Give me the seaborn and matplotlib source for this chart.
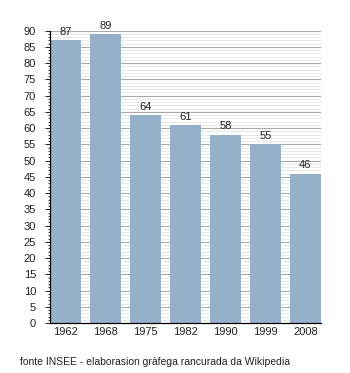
import matplotlib
matplotlib.use("Agg")
import matplotlib.pyplot as plt
import seaborn as sns
import pandas as pd
from matplotlib.ticker import MultipleLocator

years = ["1962", "1968", "1975", "1982", "1990", "1999", "2008"]
values = [87, 89, 64, 61, 58, 55, 46]
caption = "fonte INSEE - elaborasion gràfega rancurada da Wikipedia"

sns.set_theme(style="white")
plt.rcParams['font.family'] = ['Liberation Sans', 'DejaVu Sans']

df = pd.DataFrame({"year": years, "value": values})

fig = plt.figure(figsize=(3.5, 3.73), dpi=100)
ax = fig.add_axes([0.1429, 0.134, 0.774, 0.784])

ax.set_ylim(0, 90)
ax.yaxis.set_major_locator(MultipleLocator(5))
ax.yaxis.set_minor_locator(MultipleLocator(1))
ax.grid(which="minor", axis="y", color="#e2e2e2", linewidth=0.6)
ax.grid(which="major", axis="y", color="#aaaaaa", linewidth=0.8)
ax.set_axisbelow(True)

bw = 0.775
sns.barplot(data=df, x="year", y="value", color="#97b0ca", saturation=1,
            width=bw, ax=ax, zorder=3)
for p in ax.patches:
    p.set_zorder(3)
    p.set_edgecolor("none")

for i, v in enumerate(values):
    ax.text(i, v + 1.0, str(v), ha="center", va="bottom", fontsize=8, color="#222222")

ax.set_xlim(-bw / 2, len(years) - 1 + bw / 2)
ax.set_xlabel("")
ax.set_ylabel("")
for s in ["top", "right"]:
    ax.spines[s].set_visible(False)
for s in ["left", "bottom"]:
    ax.spines[s].set_color("black")
    ax.spines[s].set_linewidth(0.9)
    ax.spines[s].set_zorder(4)

ax.tick_params(axis="y", which="major", left=True, length=3.5, width=0.6, color="black",
               labelsize=8, pad=6.5, labelcolor="#222222")
ax.tick_params(axis="y", which="minor", left=True, length=1.8, width=0.5, color="black")
ax.tick_params(axis="x", bottom=False, length=0, labelsize=8, pad=3, labelcolor="#222222")

fig.text(0.057, 0.03, caption, fontsize=7.45, color="#222222", ha="left", va="center")

fig.savefig("out.png", dpi=100)
